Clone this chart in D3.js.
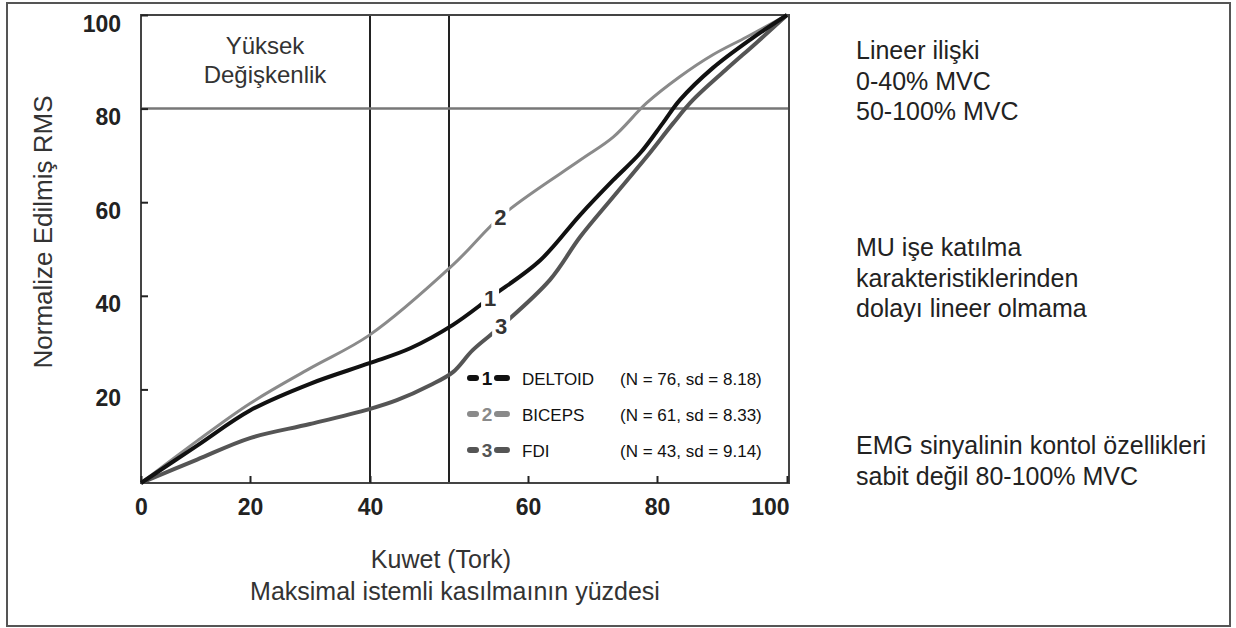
<!DOCTYPE html>
<meta charset="utf-8">

<!-- Load d3.js -->
<script src="https://d3js.org/d3.v7.min.js"></script>

<style>
  body { margin: 0; background: #fff; }
  text { font-family: "Liberation Sans", Arial, sans-serif; }
</style>

<!-- Create a div where the graph will take place -->
<div id="my_dataviz"></div>

<script>

  // ---- data ----
  var xTicks = [0, 20, 40, 60, 80, 100];
  var yTicks = [20, 40, 60, 80, 100];

  // 1 = DELTOID
  var deltoidX = [0, 10.3, 20, 30, 39.9, 45.1, 50.5, 55.3, 61.9, 68.1, 73.2, 77.4, 80.9, 83.5, 88.6, 94.3, 100];
  var deltoidY = [0, 8.0, 15.5, 21.2, 25.6, 28.8, 33.8, 39.7, 47.6, 57.3, 64.7, 70.5, 76.9, 81.8, 88.7, 94.7, 100];
  // 2 = BICEPS
  var bicepsX = [0, 10.3, 20, 30, 39.9, 50.5, 56.8, 68.1, 73.2, 78.4, 83.5, 88.6, 93.8, 100];
  var bicepsY = [0, 9.0, 17.0, 24.5, 31.6, 46.6, 57.3, 69.0, 73.9, 81.2, 86.8, 91.5, 95.3, 100];
  // 3 = FDI
  var fdiX = [0, 10.3, 20, 30, 39.9, 43.4, 47.6, 50.5, 53.0, 56.8, 63.4, 68.1, 73.2, 78.4, 82.5, 85.5, 90.5, 95.4, 100];
  var fdiY = [0, 5.0, 9.6, 12.6, 15.8, 17.7, 20.9, 23.7, 28.4, 33.8, 43.4, 52.6, 61.1, 69.7, 76.9, 81.8, 88.2, 94.2, 100];

  var curveIds = ["1", "2", "3"];
  var muscles = ["DELTOID", "BICEPS", "FDI"];
  var nValues = [76, 61, 43];
  var sdValues = ["8.18", "8.33", "9.14"];
  var labelX = [55.2, 56.5, 56.6];   // where the curve number sits on each curve

  var refLinesX = [40, 50];
  var refLinesY = [80];

  var zoneText = ["Yüksek", "Değişkenlik"];
  var xTitle = ["Kuwet (Tork)", "Maksimal istemli kasılmaının yüzdesi"];
  var yTitle = "Normalize Edilmiş RMS";
  var notes = [
    ["Lineer ilişki", "0-40% MVC", "50-100% MVC"],
    ["MU işe katılma", "karakteristiklerinden", "dolayı lineer olmama"],
    ["EMG sinyalinin kontol özellikleri", "sabit değil 80-100% MVC"]
  ];

  // ---- layout ----
  var W = 1236, H = 628;
  var plotL = 141, plotR = 789, plotT = 15, plotB = 483;

  var svg = d3.select("#my_dataviz")
    .append("svg")
      .attr("width", W)
      .attr("height", H);

  svg.append("rect").attr("width", W).attr("height", H).attr("fill", "#fff");

  // outer border of the figure
  svg.append("rect")
    .attr("x", 7).attr("y", 3)
    .attr("width", 1223).attr("height", 623)
    .attr("fill", "none").attr("stroke", "#555").attr("stroke-width", 2);

  // the x axis of the source figure is not evenly spaced, so the scale is piecewise
  var x = d3.scaleLinear()
    .domain(xTicks)
    .range([141, 250, 370, 528, 657, 787]);

  var y = d3.scaleLinear()
    .domain([0, 100])
    .range([plotB, plotT]);

  // reference lines
  svg.selectAll("vref")
    .data(refLinesX)
    .enter()
    .append("line")
      .attr("x1", function(d){ return x(d) }).attr("x2", function(d){ return x(d) })
      .attr("y1", y(0)).attr("y2", y(100))
      .attr("stroke", "#222").attr("stroke-width", 2);

  svg.selectAll("href")
    .data(refLinesY)
    .enter()
    .append("line")
      .attr("x1", plotL).attr("x2", plotR)
      .attr("y1", function(d){ return y(d) }).attr("y2", function(d){ return y(d) })
      .attr("stroke", "#777").attr("stroke-width", 2.5);

  // plot frame
  svg.append("rect")
    .attr("x", plotL).attr("y", plotT)
    .attr("width", plotR - plotL).attr("height", plotB - plotT)
    .attr("fill", "none").attr("stroke", "#444").attr("stroke-width", 2);

  // axes (ticks point inward)
  var xAxis = svg.append("g")
    .attr("transform", "translate(0," + plotB + ")")
    .call(d3.axisBottom(x).tickValues(xTicks).tickSizeInner(-7).tickSizeOuter(0).tickPadding(16).tickFormat(d3.format("d")));

  var yAxis = svg.append("g")
    .attr("transform", "translate(" + plotL + ",0)")
    .call(d3.axisLeft(y).tickValues(yTicks).tickSizeInner(-7).tickSizeOuter(0).tickPadding(20).tickFormat(d3.format("d")));

  [xAxis, yAxis].forEach(function(a) {
    a.select(".domain").remove();
    a.selectAll(".tick line").attr("stroke", "#222").attr("stroke-width", 2);
    a.selectAll(".tick text")
      .attr("fill", "#222")
      .style("font-size", "23px")
      .style("font-weight", "bold")
      .style("font-family", "'Liberation Sans', Arial, sans-serif");
  });
  yAxis.selectAll(".tick text").attr("dy", "0.7em");
  xAxis.selectAll(".tick text").filter(function(d){ return d === 100 })
    .attr("text-anchor", "end").attr("x", 2);

  // curves
  var series = [
    {id: "2", xs: bicepsX, ys: bicepsY, color: "#8a8a8a", width: 3},
    {id: "3", xs: fdiX, ys: fdiY, color: "#555", width: 4},
    {id: "1", xs: deltoidX, ys: deltoidY, color: "#111", width: 4}
  ];

  var line = d3.line()
    .x(function(d){ return x(d[0]) })
    .y(function(d){ return y(d[1]) })
    .curve(d3.curveCatmullRom.alpha(0.5));

  series.forEach(function(s) {
    s.points = s.xs.map(function(v, i){ return [v, s.ys[i]] });
    svg.append("path")
      .datum(s.points)
      .attr("d", line)
      .attr("fill", "none")
      .attr("stroke", s.color)
      .attr("stroke-width", s.width)
      .attr("stroke-linejoin", "round");
  });

  // curve numbers, with a white patch that cuts the line
  series.forEach(function(s) {
    var k = curveIds.indexOf(s.id);
    var lx = labelX[k];
    var ly = d3.scaleLinear().domain(s.xs).range(s.ys)(lx);
    var cx = x(lx), cy = y(ly);
    svg.append("rect")
      .attr("x", cx - 9).attr("y", cy - 12)
      .attr("width", 18).attr("height", 24)
      .attr("fill", "#fff");
    svg.append("text")
      .attr("x", cx).attr("y", cy + 8)
      .attr("text-anchor", "middle")
      .style("font-size", "22px").style("font-weight", "bold")
      .attr("fill", "#333")
      .text(s.id);
  });

  // legend
  var legendColor = {"1": "#111", "2": "#8a8a8a", "3": "#555"};
  curveIds.forEach(function(id, i) {
    var base = 385 + i * 36;
    var c = legendColor[id];
    svg.append("rect").attr("x", 467).attr("y", base - 10).attr("width", 12).attr("height", 6)
      .attr("rx", 3).attr("fill", c);
    svg.append("rect").attr("x", 494).attr("y", base - 10).attr("width", 16).attr("height", 6)
      .attr("rx", 3).attr("fill", c);
    svg.append("text").attr("x", 487).attr("y", base)
      .attr("text-anchor", "middle")
      .style("font-size", "19px").style("font-weight", "bold")
      .attr("fill", c).text(id);
    svg.append("text").attr("x", 522).attr("y", base)
      .style("font-size", "17px").attr("fill", "#111")
      .text(muscles[i]);
    svg.append("text").attr("x", 620).attr("y", base)
      .style("font-size", "17px").attr("fill", "#111")
      .text("(N = " + nValues[i] + ", sd = " + sdValues[i] + ")");
  });

  // high variability zone label
  svg.selectAll("zone")
    .data(zoneText)
    .enter()
    .append("text")
      .attr("x", 265)
      .attr("y", function(d, i){ return 54 + i * 29 })
      .attr("text-anchor", "middle")
      .style("font-size", "24px")
      .attr("fill", "#333")
      .text(function(d){ return d });

  // axis titles
  svg.selectAll("xtitle")
    .data(xTitle)
    .enter()
    .append("text")
      .attr("x", function(d, i){ return i === 0 ? 441 : 455 })
      .attr("y", function(d, i){ return 568 + i * 32 })
      .attr("text-anchor", "middle")
      .style("font-size", "25px")
      .attr("fill", "#333")
      .text(function(d){ return d });

  svg.append("text")
    .attr("transform", "translate(52,232) rotate(-90)")
    .attr("text-anchor", "middle")
    .style("font-size", "26px")
    .attr("fill", "#333")
    .text(yTitle);

  // notes on the right
  var noteTop = [59, 256, 454];
  notes.forEach(function(block, b) {
    svg.selectAll("note" + b)
      .data(block)
      .enter()
      .append("text")
        .attr("x", 856)
        .attr("y", function(d, i){ return noteTop[b] + i * 30.5 })
        .style("font-size", "25px")
        .attr("fill", "#222")
        .text(function(d){ return d });
  });

</script>
